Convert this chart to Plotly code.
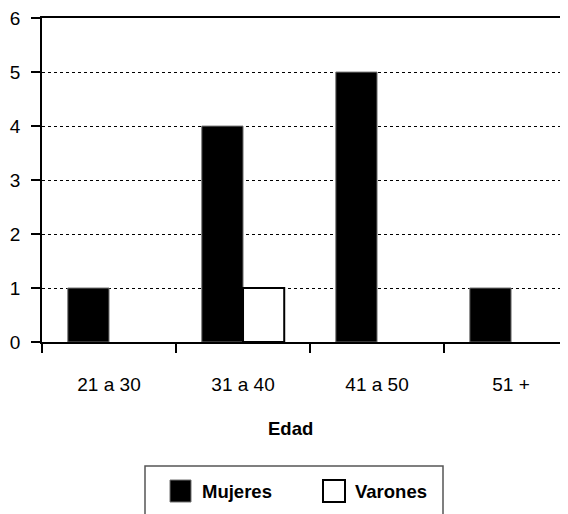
import plotly.graph_objects as go

categories = ["21 a 30", "31 a 40", "41 a 50", "51 +"]
mujeres = [1, 4, 5, 1]
varones = [None, 1, None, None]
y_ticks = [0, 1, 2, 3, 4, 5, 6]

OFF = 8  # default page body margin
W, H = 568 - OFF, 514 - OFF
L, R, T, B = 42 - OFF, 0, 18 - OFF, 514 - 342
PW, PH = W - L - R, H - T - B

def px(x):
    return (x - OFF - L) / PW

def py(y):
    return (H - B - (y - OFF)) / PH

FONT = "Liberation Sans, Arial, sans-serif"

fig = go.Figure()
fig.add_trace(go.Bar(x=categories, y=mujeres, name="Mujeres",
                     marker=dict(color="black", line=dict(color="#707070", width=1))))
fig.add_trace(go.Bar(x=categories, y=varones, name="Varones",
                     marker=dict(color="white", line=dict(color="black", width=2))))

fig.update_layout(
    width=W, height=H,
    margin=dict(l=L, r=R, t=T, b=B, pad=0, autoexpand=False),
    plot_bgcolor="white", paper_bgcolor="white",
    barmode="group", bargap=0.385, bargroupgap=0,
    showlegend=False,
    font=dict(family=FONT, color="black", size=19),
)
fig.update_xaxes(
    type="category", range=[-0.5, 3.425], automargin=False,
    showline=True, linecolor="black", linewidth=1.5, mirror=True,
    ticks="outside", tickson="boundaries", ticklen=9, tickwidth=1.5, tickcolor="black",
    ticklabelstandoff=24, showgrid=False,
    tickfont=dict(size=19, family=FONT, color="black"),
)
fig.update_yaxes(
    range=[0, 6.002], tickvals=y_ticks, automargin=False,
    showline=True, linecolor="black", linewidth=1.5,
    ticks="outside", ticklen=9, tickwidth=1.5, tickcolor="black",
    ticklabelstandoff=7, ticklabeloverflow="allow",
    showgrid=True, gridcolor="black", gridwidth=1, griddash="dot",
    zeroline=False,
    tickfont=dict(size=19, family=FONT, color="black"),
)

# axis title
fig.add_annotation(text="<b>Edad</b>", x=px(290), y=py(428), xref="paper", yref="paper",
                   xanchor="center", yanchor="middle", showarrow=False,
                   font=dict(size=18.5, family=FONT, color="black"))

# legend box
fig.add_shape(type="rect", xref="paper", yref="paper",
              x0=px(145), x1=px(443), y0=py(466), y1=py(540),
              line=dict(color="#555555", width=1.5), fillcolor="white", layer="below")
fig.add_shape(type="rect", xref="paper", yref="paper",
              x0=px(170), x1=px(191), y0=py(480), y1=py(502),
              line=dict(color="#707070", width=1), fillcolor="black")
fig.add_shape(type="rect", xref="paper", yref="paper",
              x0=px(323), x1=px(345), y0=py(480), y1=py(502),
              line=dict(color="black", width=2), fillcolor="white")
fig.add_annotation(text="<b>Mujeres</b>", x=px(200), y=py(491), xref="paper", yref="paper",
                   xanchor="left", yanchor="middle", showarrow=False,
                   font=dict(size=18.5, family=FONT, color="black"))
fig.add_annotation(text="<b>Varones</b>", x=px(353), y=py(491), xref="paper", yref="paper",
                   xanchor="left", yanchor="middle", showarrow=False,
                   font=dict(size=18.5, family=FONT, color="black"))

fig.write_html("out.html")
